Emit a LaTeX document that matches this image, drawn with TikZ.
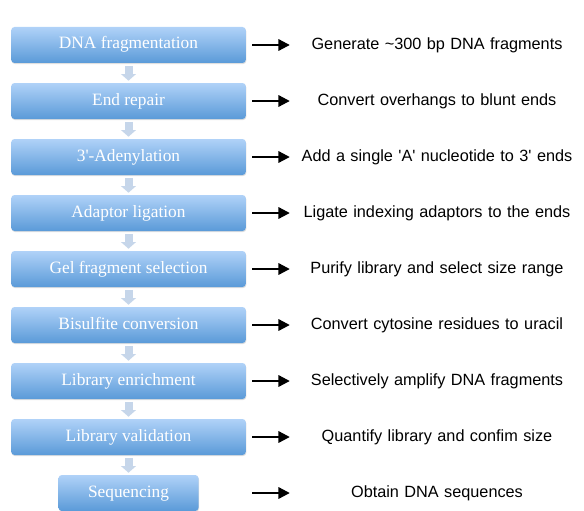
\documentclass[tikz,border=0pt]{standalone}
\usepackage{fontspec}
\setmainfont{Liberation Serif}
\newfontfamily\armfont{Liberation Sans}
\usetikzlibrary{arrows.meta,shadows}

\definecolor{boxtop}{HTML}{B0D2F8}
\definecolor{boxbot}{HTML}{5A9AD8}
\definecolor{flowblue}{HTML}{C6D6EA}

\tikzset{
  stepbox/.style={rounded corners=2.5pt, top color=boxtop, bottom color=boxbot,
    draw=none, text=white, minimum height=27pt, inner sep=0pt,
    text height=8.5pt, text depth=2.5pt,
    font=\fontsize{13}{15}\selectfont,
    drop shadow={opacity=0.25, shadow xshift=0.4pt, shadow yshift=-0.8pt}},
  desc/.style={font=\armfont\fontsize{12.2}{14}\selectfont, text width=210pt, align=center, inner sep=0pt},
  flow/.style={draw=flowblue, line width=6pt, shorten <=2pt, shorten >=1.5pt,
    -{Triangle[length=5pt, width=11pt]}},
  rarr/.style={draw=black, line width=1.6pt, shorten >=5.2pt,
    -{Triangle[length=8.5pt, width=8.5pt]}}
}

\begin{document}
\begin{tikzpicture}[x=0.75pt, y=-0.75pt]
        \useasboundingbox (0,0) rectangle (584,510);

        % steps of the protocol
        \node[stepbox, minimum width=176pt] (b1) at (128.5,45) {DNA fragmentation};
        \node[stepbox, minimum width=176pt] (b2) at (128.5,101) {End repair};
        \node[stepbox, minimum width=176pt] (b3) at (128.5,157) {3\textquotesingle-Adenylation};
        \node[stepbox, minimum width=176pt] (b4) at (128.5,213) {Adaptor ligation};
        \node[stepbox, minimum width=176pt] (b5) at (128.5,269) {Gel fragment selection};
        \node[stepbox, minimum width=176pt] (b6) at (128.5,325) {Bisulfite conversion};
        \node[stepbox, minimum width=176pt] (b7) at (128.5,381) {Library enrichment};
        \node[stepbox, minimum width=176pt] (b8) at (128.5,437) {Library validation};
        \node[stepbox, minimum width=105pt] (b9) at (128.5,493) {Sequencing};

        \draw[flow] (b1) -- (b2);
        \draw[flow] (b2) -- (b3);
        \draw[flow] (b3) -- (b4);
        \draw[flow] (b4) -- (b5);
        \draw[flow] (b5) -- (b6);
        \draw[flow] (b6) -- (b7);
        \draw[flow] (b7) -- (b8);
        \draw[flow] (b8) -- (b9);

        % what each step does
        \node[desc] (t1) at (437,45) {Generate \textasciitilde300 bp DNA fragments};
        \node[desc] (t2) at (437,101) {Convert overhangs to blunt ends};
        \node[desc] (t3) at (437,157) {Add a single \textquotesingle A\textquotesingle{} nucleotide to 3\textquotesingle{} ends};
        \node[desc] (t4) at (437,213) {Ligate indexing adaptors to the ends};
        \node[desc] (t5) at (437,269) {Purify library and select size range};
        \node[desc] (t6) at (437,325) {Convert cytosine residues to uracil};
        \node[desc] (t7) at (437,381) {Selectively amplify DNA fragments};
        \node[desc] (t8) at (437,437) {Quantify library and confim size};
        \node[desc] (t9) at (437,493) {Obtain DNA sequences};

        \foreach \i/\y in {1/45,2/101,3/157,4/213,5/269,6/325,7/381,8/437,9/493} {
            \coordinate (s\i) at (252,\y);
            \draw[rarr] (s\i) -- (t\i);
        }
    \end{tikzpicture}
\end{document}
